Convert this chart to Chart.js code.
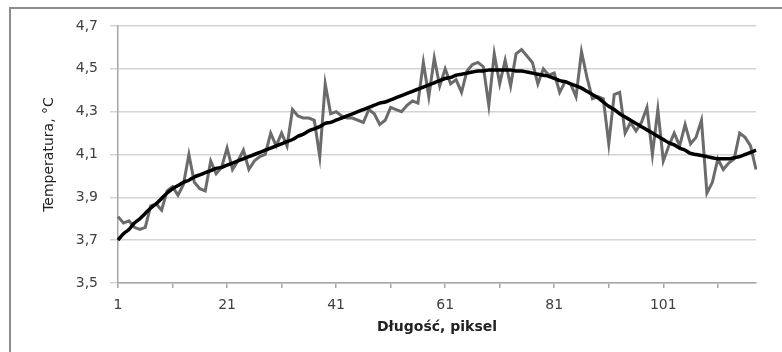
<!DOCTYPE html>
<html>
<head>
<meta charset="utf-8">
<script src="https://cdn.jsdelivr.net/npm/chart.js@4.4.1/dist/chart.umd.min.js"></script>
<style>
html, body { margin: 0; padding: 0; background: #fff; }
</style>
</head>
<body>
<canvas id="myChart" width="782" height="352"></canvas>
<script>
// pixel positions along the profile (1..118)
const pixels = Array.from({ length: 118 }, (_, i) => String(i + 1));
const xTickLabels = ['1', '21', '41', '61', '81', '101'];
const yTicks = [3.5, 3.7, 3.9, 4.1, 4.3, 4.5, 4.7];

// measured temperature (grey, noisy)
const measured = [
    3.81, 3.78, 3.79, 3.76, 3.75, 3.76, 3.86, 3.87, 3.84, 3.93,
    3.95, 3.91, 3.96, 4.10, 3.97, 3.94, 3.93, 4.07, 4.01, 4.04,
    4.13, 4.03, 4.07, 4.12, 4.03, 4.07, 4.09, 4.10, 4.20, 4.14,
    4.20, 4.14, 4.31, 4.28, 4.27, 4.27, 4.26, 4.09, 4.43, 4.29,
    4.30, 4.28, 4.27, 4.27, 4.26, 4.25, 4.31, 4.29, 4.24, 4.26,
    4.32, 4.31, 4.30, 4.33, 4.35, 4.34, 4.53, 4.37, 4.55, 4.42,
    4.50, 4.43, 4.45, 4.39, 4.49, 4.52, 4.53, 4.51, 4.33, 4.57,
    4.43, 4.54, 4.42, 4.57, 4.59, 4.56, 4.53, 4.43, 4.50, 4.47,
    4.48, 4.39, 4.44, 4.43, 4.37, 4.58, 4.46, 4.36, 4.37, 4.36,
    4.15, 4.38, 4.39, 4.20, 4.25, 4.21, 4.25, 4.32, 4.10, 4.31,
    4.07, 4.14, 4.20, 4.14, 4.24, 4.15, 4.18, 4.26, 3.92, 3.97,
    4.08, 4.03, 4.06, 4.08, 4.20, 4.18, 4.14, 4.03
];

// trend line (black)
const trend = [
    3.70, 3.73, 3.75, 3.78, 3.80, 3.825,
    3.85, 3.87, 3.895, 3.92, 3.94,
    3.955, 3.97, 3.98, 3.995, 4.005,
    4.015, 4.025, 4.035, 4.04, 4.05,
    4.06, 4.07, 4.08, 4.09, 4.10,
    4.11, 4.12, 4.13, 4.14, 4.15,
    4.16, 4.17, 4.185, 4.195, 4.21,
    4.22, 4.23, 4.245, 4.25, 4.26,
    4.27, 4.28, 4.29, 4.30, 4.31,
    4.32, 4.33, 4.34, 4.345, 4.355,
    4.365, 4.375, 4.385, 4.395, 4.405,
    4.415, 4.425, 4.435, 4.445, 4.455,
    4.46, 4.47, 4.475, 4.48, 4.485,
    4.49, 4.49, 4.495, 4.495, 4.495,
    4.495, 4.495, 4.49, 4.49, 4.485,
    4.48, 4.475, 4.47, 4.465, 4.455,
    4.445, 4.44, 4.43, 4.42, 4.41,
    4.395, 4.38, 4.365, 4.345, 4.325,
    4.31, 4.29, 4.275, 4.26, 4.245,
    4.23, 4.215, 4.2, 4.185, 4.17,
    4.155, 4.145, 4.13, 4.12, 4.105,
    4.1, 4.095, 4.09, 4.085, 4.08,
    4.08, 4.08, 4.085, 4.09, 4.10,
    4.11, 4.12
];

const labelFont = { family: 'DejaVu Sans', size: 14 };
const textColor = '#404040';
const gridColor = '#d4d4d4';
const axisColor = '#a6a6a6';

// grey frame of the chart area (top and left edge only visible)
const frame = {
    id: 'frame',
    beforeDraw(chart) {
        const c = chart.ctx;
        c.save();
        c.strokeStyle = '#8c8c8c';
        c.lineWidth = 2;
        c.beginPath();
        c.moveTo(10, 352);
        c.lineTo(10, 8);
        c.lineTo(782, 8);
        c.stroke();
        c.restore();
    }
};

const ctx = document.getElementById('myChart');
new Chart(ctx, {
    type: 'line',
    data: {
        labels: pixels,
        datasets: [
            {
                label: 'trend',
                data: trend,
                borderColor: '#000000',
                borderWidth: 3.5,
                pointRadius: 0,
                cubicInterpolationMode: 'monotone',
                order: 0
            },
            {
                label: 'temperatura',
                data: measured,
                borderColor: '#6b6b6b',
                borderWidth: 3,
                pointRadius: 0,
                tension: 0,
                order: 1
            }
        ]
    },
    options: {
        responsive: false,
        animation: false,
        devicePixelRatio: 1,
        layout: { padding: { top: 26, right: 26, left: 0, bottom: 0 } },
        plugins: {
            legend: { display: false },
            tooltip: { enabled: false }
        },
        scales: {
            x: {
                type: 'category',
                offset: false,
                grid: {
                    display: true,
                    drawOnChartArea: false,
                    drawTicks: true,
                    tickLength: 5,
                    lineWidth: 1.5,
                    tickColor: c => (c.index % 10 === 0 ? axisColor : 'rgba(0,0,0,0)')
                },
                border: { display: true, color: axisColor, width: 1.5 },
                ticks: {
                    autoSkip: false,
                    maxRotation: 0,
                    minRotation: 0,
                    padding: 9,
                    color: textColor,
                    font: labelFont,
                    callback: (v, i) => (xTickLabels.includes(pixels[i]) ? pixels[i] : '')
                },
                title: {
                    display: true,
                    text: 'Długość, piksel',
                    color: '#222222',
                    font: { family: 'DejaVu Sans', size: 14, weight: 'bold' },
                    padding: { top: 0, bottom: 16 }
                },
                afterFit: s => { s.height = 69; }
            },
            y: {
                min: 3.5,
                max: 4.7,
                grid: {
                    color: gridColor,
                    lineWidth: 1.5,
                    tickLength: 8
                },
                border: { display: true, color: axisColor, width: 1.5 },
                ticks: {
                    stepSize: 0.2,
                    padding: 12,
                    color: textColor,
                    font: labelFont,
                    callback: v => (yTicks.some(t => Math.abs(t - v) < 1e-6) ? v.toFixed(1).replace('.', ',') : '')
                },
                title: {
                    display: true,
                    text: 'Temperatura, °C',
                    color: '#222222',
                    font: { family: 'DejaVu Sans', size: 14 },
                    padding: { top: 41, bottom: 0 }
                },
                afterFit: s => { s.width = 118; }
            }
        }
    },
    plugins: [frame]
});
</script>
</body>
</html>
